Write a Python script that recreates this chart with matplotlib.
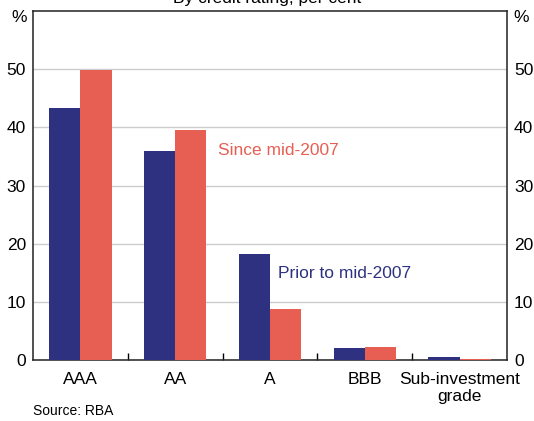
import matplotlib.pyplot as plt
import numpy as np

plt.rcParams['font.family'] = ['Liberation Sans', 'DejaVu Sans']

# data (per cent)
categories = ['AAA', 'AA', 'A', 'BBB', 'Sub-investment\ngrade']
prior = [43.4, 35.9, 18.3, 2.0, 0.6]
since = [49.9, 39.5, 8.7, 2.2, 0.1]

blue = '#2e3180'
red = '#e65f52'

fig = plt.figure(figsize=(5.34, 4.21), dpi=100)
ax = fig.add_axes([33 / 534, 1 - 360 / 421, 474 / 534, 349 / 421])

x = np.arange(len(categories))
w = 0.33
ax.bar(x - w / 2, prior, width=w, color=blue, zorder=3)
ax.bar(x + w / 2, since, width=w, color=red, zorder=3)

ax.set_xlim(-0.5, len(categories) - 0.5)
ax.set_ylim(0, 60)
ax.set_yticks([0, 10, 20, 30, 40, 50])
ax.yaxis.grid(True, color='#cccccc', linewidth=1, zorder=0)

# category labels, separator ticks between groups
ax.set_xticks(x)
ax.set_xticklabels(categories, fontsize=12.5, linespacing=1.15)
ax.set_xticks(np.arange(0.5, len(categories) - 1), minor=True)
ax.tick_params(axis='x', which='major', length=0, pad=9)
ax.tick_params(axis='x', which='minor', direction='in', length=5, width=1)

ax.tick_params(axis='y', length=0, labelsize=12.5, pad=5,
               left=True, right=True, labelleft=True, labelright=True)

for s in ax.spines.values():
    s.set_linewidth(1.1)
    s.set_color('#222222')

ax.text(1.45, 36.0, 'Since mid-2007', color=red, fontsize=12.5, va='center')
ax.text(2.08, 14.9, 'Prior to mid-2007', color=blue, fontsize=12.5, va='center')

fig.text(19 / 534, 1 - 18 / 421, '%', ha='center', va='center', fontsize=12.5)
fig.text(521 / 534, 1 - 18 / 421, '%', ha='center', va='center', fontsize=12.5)
fig.text(0.5, 1 - 3 / 421, 'By credit rating, per cent', ha='center',
         va='baseline', fontsize=12.5)
fig.text(33 / 534, 1 - 411 / 421, 'Source: RBA', ha='left', va='center',
         fontsize=10)

fig.savefig('out.png', dpi=100)
